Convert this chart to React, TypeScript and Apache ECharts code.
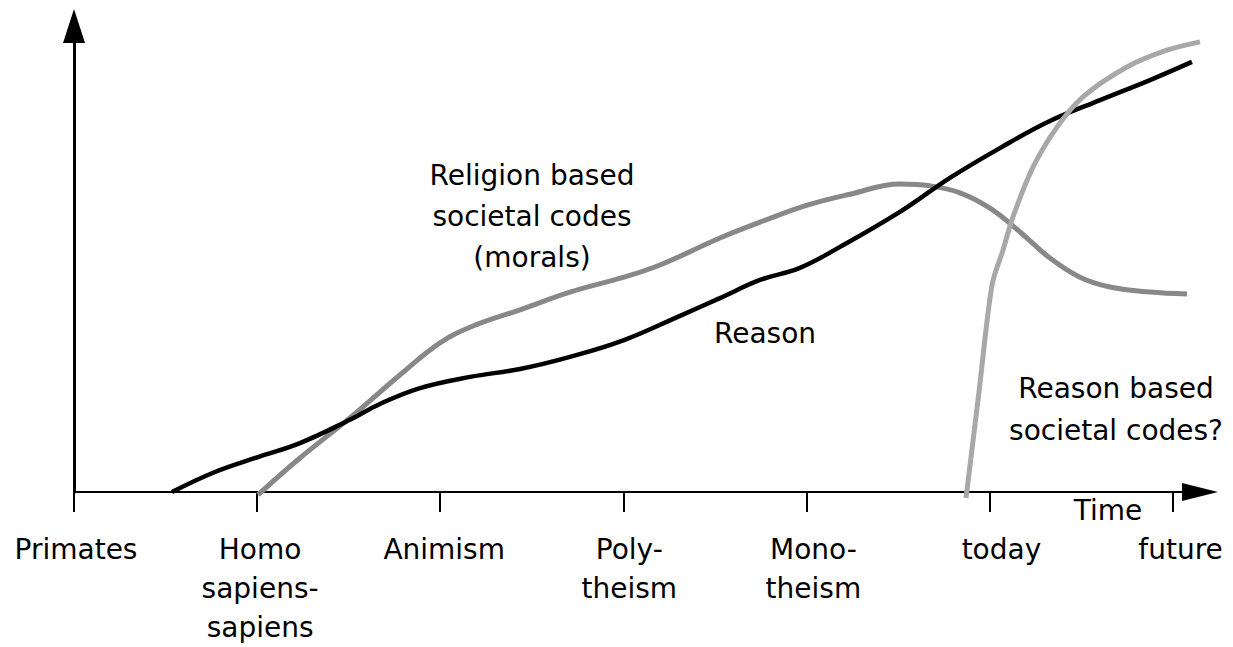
import React, { useEffect, useRef } from "react";
import * as echarts from "echarts";

// Eras along the time axis (one unit per era)
const eraTicks = [0, 1, 2, 3, 4, 5, 6];
const eraLabels = [
  "Primates",
  "Homo\nsapiens-\nsapiens",
  "Animism",
  "Poly-\ntheism",
  "Mono-\ntheism",
  "today",
  "future",
];
// small horizontal nudge of each label (px) as in the reference
const eraLabelShift = [2, 3, 4, 6, 7, 12, 8];

// Reason (black curve): era position / level 0-100
const reasonX = [0.535, 0.77, 1.005, 1.234, 1.507, 1.671, 1.89, 2.163, 2.436, 2.709, 3.004, 3.31, 3.528, 3.747, 3.965, 4.184, 4.511, 4.784, 5.057, 5.33, 5.604, 5.877, 6.106];
const reasonY = [0, 4.3, 7.5, 10.5, 15.5, 18.9, 22.3, 24.7, 26.4, 29.0, 32.6, 37.8, 41.6, 45.5, 48.1, 52.6, 60.1, 67.4, 73.8, 79.6, 84.1, 88.4, 92.3];

// Religion based societal codes (morals)
const religionX = [1.005, 1.234, 1.507, 1.78, 1.999, 2.19, 2.436, 2.709, 3.004, 3.2, 3.528, 3.747, 4.009, 4.238, 4.511, 4.675, 4.839, 5.003, 5.167, 5.33, 5.494, 5.658, 5.877, 6.079];
const religionY = [-0.6, 7.3, 15.9, 25.1, 32.0, 35.8, 39.1, 42.9, 46.1, 48.7, 54.5, 57.9, 61.6, 63.9, 66.1, 65.7, 64.2, 60.9, 55.8, 50.2, 46.1, 44.0, 42.9, 42.5];

// Reason based societal codes?
const reasonCodesX = [4.872, 4.943, 5.014, 5.074, 5.128, 5.238, 5.369, 5.511, 5.751, 5.969, 6.15];
const reasonCodesY = [-1.3, 21.5, 44.4, 51.9, 59.0, 69.7, 78.3, 84.8, 91.2, 94.8, 96.6];

const FONT = '"DejaVu Sans", Verdana, sans-serif';
const FS = 28;

function zip(xs: number[], ys: number[]) {
  return xs.map((x, i) => [x, ys[i]]);
}

export default function App() {
  const ref = useRef<HTMLDivElement>(null);
  useEffect(() => {
    if (!ref.current) return;
    const chart = echarts.init(ref.current, null, { renderer: "svg" });
    const rich: Record<string, any> = {};
    eraLabelShift.forEach((s, i) => {
      rich["o" + i] = {
        fontFamily: FONT,
        fontSize: FS,
        lineHeight: 39,
        color: "#000",
        padding: [0, 0, 0, 2 * s],
      };
    });
    chart.setOption({
      animation: false,
      backgroundColor: "#ffffff",
      grid: { left: 74, right: 33, top: 26, bottom: 155 },
      xAxis: {
        type: "value",
        min: 0,
        max: 6.15,
        interval: 1,
        splitLine: { show: false },
        axisLine: {
          show: true,
          onZero: true,
          symbol: ["none", "triangle"],
          symbolSize: [18, 36],
          lineStyle: { color: "#000", width: 2 },
        },
        axisTick: {
          show: true,
          customValues: eraTicks,
          length: 20,
          lineStyle: { color: "#000", width: 2 },
        },
        axisLabel: {
          show: true,
          customValues: eraTicks,
          formatter: (v: number) => {
            const i = eraTicks.indexOf(Math.round(v));
            if (i < 0) return "";
            return eraLabels[i]
              .split("\n")
              .map((line) => `{o${i}|${line}}`)
              .join("\n");
          },
          rich,
          margin: 38,
          color: "#000",
          fontFamily: FONT,
          fontSize: FS,
          lineHeight: 39,
          verticalAlign: "top",
        },
      },
      yAxis: {
        type: "value",
        min: 0,
        max: 100,
        splitLine: { show: false },
        axisTick: { show: false },
        axisLabel: { show: false },
        axisLine: {
          show: true,
          onZero: true,
          symbol: ["none", "triangle"],
          symbolSize: [22, 34],
          lineStyle: { color: "#000", width: 3 },
        },
      },
      series: [
        {
          name: "Religion based societal codes (morals)",
          type: "line",
          data: zip(religionX, religionY),
          smooth: 0.4,
          showSymbol: false,
          clip: false,
          lineStyle: { color: "#888888", width: 5 },
          z: 2,
        },
        {
          name: "Reason",
          type: "line",
          data: zip(reasonX, reasonY),
          smooth: 0.4,
          showSymbol: false,
          clip: false,
          lineStyle: { color: "#000000", width: 4.5 },
          z: 3,
        },
        {
          name: "Reason based societal codes?",
          type: "line",
          data: zip(reasonCodesX, reasonCodesY),
          smooth: 0.3,
          showSymbol: false,
          clip: false,
          lineStyle: { color: "#a8a8a8", width: 5 },
          z: 4,
        },
      ],
      graphic: [
        {
          type: "text",
          x: 532,
          y: 216,
          style: {
            text: "Religion based\nsocietal codes\n(morals)",
            fill: "#000",
            font: `${FS}px ${FONT}`,
            lineHeight: 41,
            align: "center",
            verticalAlign: "middle",
          },
        },
        {
          type: "text",
          x: 765,
          y: 333,
          style: {
            text: "Reason",
            fill: "#000",
            font: `${FS}px ${FONT}`,
            align: "center",
            verticalAlign: "middle",
          },
        },
        {
          type: "text",
          x: 1116,
          y: 409,
          style: {
            text: "Reason based\nsocietal codes?",
            fill: "#000",
            font: `${FS}px ${FONT}`,
            lineHeight: 42,
            align: "center",
            verticalAlign: "middle",
          },
        },
        {
          type: "text",
          x: 1108,
          y: 510,
          style: {
            text: "Time",
            fill: "#000",
            font: `${FS}px ${FONT}`,
            align: "center",
            verticalAlign: "middle",
          },
        },
      ],
    });
    return () => chart.dispose();
  }, []);
  return <div ref={ref} style={{ width: 1233, height: 647, position: "absolute", left: 0, top: 0 }} />;
}
